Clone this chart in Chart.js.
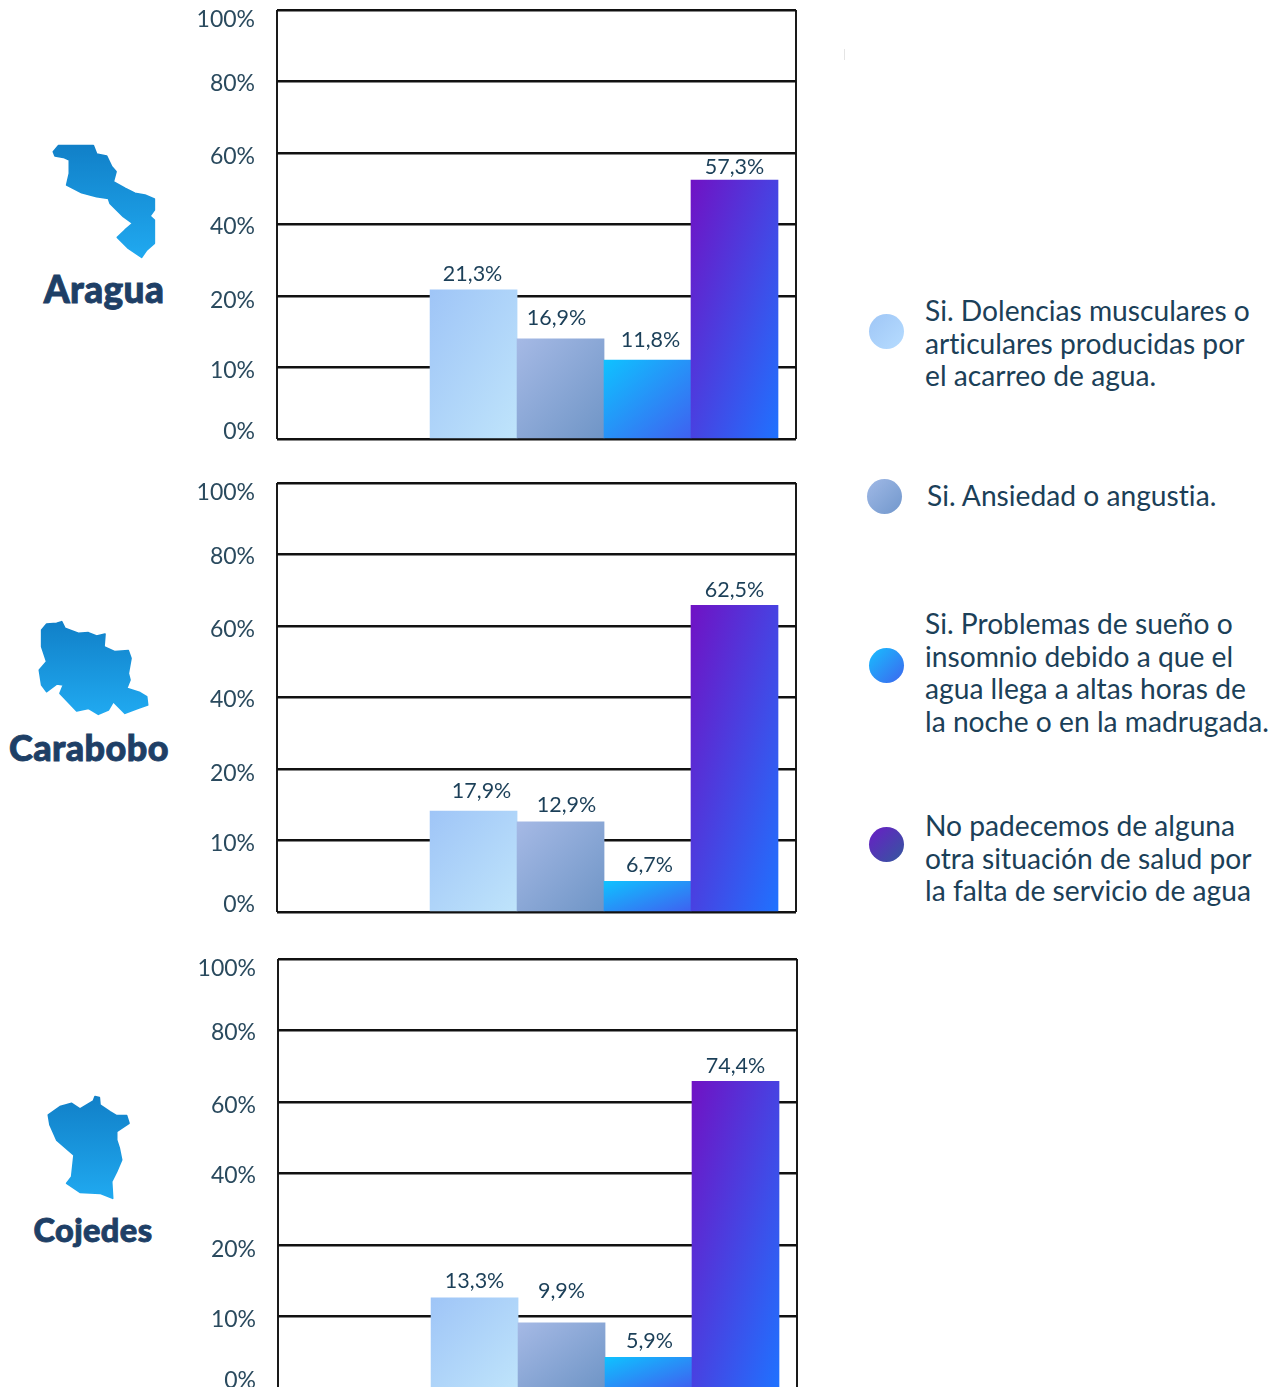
<!DOCTYPE html>
<html lang="es">
<head>
<meta charset="utf-8">
<title>Salud y servicio de agua</title>
<script src="https://cdn.jsdelivr.net/npm/chart.js@4/dist/chart.umd.min.js"></script>
<style>
html,body{margin:0;padding:0;background:#fff;width:1280px;height:1387px;overflow:hidden}
body{position:relative;font-family:Lato,sans-serif}
.c{position:absolute;display:block}
svg.m{position:absolute;left:0;width:280px}
svg.m path{fill:url(#mapGrad);stroke:url(#mapGrad);stroke-width:5;stroke-linejoin:round;filter:blur(.4px)}
.r{position:absolute;transform:translate(-50%,-50%);font-weight:900;color:#1e3f66;white-space:nowrap;line-height:1;-webkit-text-stroke:0.9px #1e3f66;letter-spacing:.4px}
.t{position:absolute;left:925px;font-size:28.2px;line-height:32.5px;color:#1b4058;white-space:nowrap;font-weight:400;font-variant-ligatures:none}
.d{position:absolute;width:35px;height:35px;border-radius:50%}
</style>
</head>
<body>
<svg width="0" height="0" style="position:absolute"><defs>
<linearGradient id="mapGrad" x1="0" y1="0" x2="0" y2="1"><stop offset="0" stop-color="#1180c8"/><stop offset="1" stop-color="#20a9f0"/></linearGradient>
</defs></svg>

<svg class="m" style="top:130px" height="190" viewBox="0 0 840 570"><path d="M160 65L175 47L280 47L290 72L320 78L335 110L348 125L340 155L375 175L405 190L435 195L463 207L463 240L450 258L463 270L463 340L440 360L425 382L385 355L352 322L375 300L398 280L370 260L330 220L325 205L290 200L245 188L200 165L208 130L208 90L190 82L165 78Z"/></svg>
<svg class="m" style="top:610px" height="170" viewBox="0 0 840 510"><path d="M125 60L140 42L170 40L185 35L195 55L235 70L265 68L290 78L315 72L312 110L345 125L385 122L393 145L385 190L390 210L380 235L420 248L440 260L443 285L415 295L375 310L340 275L325 300L295 313L265 295L230 303L180 250L190 225L170 222L140 245L125 225L118 180L140 155L125 110Z"/></svg>
<svg class="m" style="top:1085px" height="170" viewBox="0 0 840 510"><path d="M145 90L180 65L215 55L240 72L280 48L285 35L298 38L300 60L330 80L350 92L380 92L387 115L350 140L350 165L358 190L365 225L350 260L335 290L338 340L300 325L240 322L200 295L215 275L222 210L170 165L150 120Z"/></svg>

<div class="r" style="left:104px;top:288px;font-size:37px">Aragua</div>
<div class="r" style="left:89px;top:747px;font-size:36px">Carabobo</div>
<div class="r" style="left:93px;top:1230px;font-size:32.5px">Cojedes</div>

<canvas class="c" id="c1" style="left:0;top:-10px"></canvas>
<canvas class="c" id="c2" style="left:0;top:463px"></canvas>
<canvas class="c" id="c3" style="left:1px;top:939px"></canvas>

<div class="d" style="left:869px;top:314px;background:linear-gradient(135deg,#9fc6f6,#b6dcff)"></div>
<div class="d" style="left:867px;top:479px;background:linear-gradient(135deg,#a0b9e6,#7197cc)"></div>
<div class="d" style="left:869px;top:648px;background:linear-gradient(135deg,#18beff,#3d66ee)"></div>
<div class="d" style="left:869px;top:827px;background:linear-gradient(135deg,#6a1dc6,#33589e)"></div>
<div style="position:absolute;left:844px;top:49px;width:1px;height:11px;background:#e4e4e4"></div>

<div class="t" style="top:294px">Si. Dolencias musculares o<br>articulares producidas por<br>el acarreo de agua.</div>
<div class="t" style="top:479px;left:927px">Si. Ansiedad o angustia.</div>
<div class="t" style="top:607px">Si. Problemas de sueño o<br>insomnio debido a que el<br>agua llega a altas horas de<br>la noche o en la madrugada.</div>
<div class="t" style="top:809px">No padecemos de alguna<br>otra situación de salud por<br>la falta de servicio de agua</div>

<script>
// Categories (legend order)
const categories = ["Dolencias musculares o articulares", "Ansiedad o angustia", "Problemas de sueño o insomnio", "No padecemos de otra situación de salud"];
// Axis: the reference spaces these ticks evenly, so the axis is not linear
const tickValues = [0, 10, 20, 40, 60, 80, 100];
const tickLabels = ["0%", "10%", "20%", "40%", "60%", "80%", "100%"];
// Printed value labels
const araguaLabels = ["21,3%", "16,9%", "11,8%", "57,3%"];
const caraboboLabels = ["17,9%", "12,9%", "6,7%", "62,5%"];
const cojedesLabels = ["13,3%", "9,9%", "5,9%", "74,4%"];
// Bar tops as read against the reference's axis
const araguaBars = [21.7, 14.0, 11.05, 52.4];
const caraboboBars = [14.1, 12.6, 4.3, 65.8];
const cojedesBars = [12.6, 9.1, 4.3, 65.8];

const tickColor = "#2a4a5e", labelColor = "#1b3f58";
const gradients = [["#9fc5f7", "#bfe4fb"], ["#a5b9e5", "#6f95c6"], ["#0fc2ff", "#3f60f0"], ["#7012c4", "#1f72ff"]];
const labelNudges = [-7, 3, 5, 2, 4, 2, 10];

class StepPercentScale extends Chart.LinearScale {
  static id = "stepPercent";
  static defaults = {};
  getPixelForValue(v) {
    let i = 0;
    while (i < tickValues.length - 2 && v > tickValues[i + 1]) i++;
    const t = (v - tickValues[i]) / (tickValues[i + 1] - tickValues[i]);
    return this.getPixelForDecimal((i + t) / (tickValues.length - 1));
  }
  _computeLabelItems(area) {
    const items = super._computeLabelItems(area);
    items.forEach((it, i) => {
      const tr = it.options.translation;
      it.options.translation = [tr[0], tr[1] + labelNudges[i]];
    });
    return items;
  }
}
Chart.register(StepPercentScale);

const valueLabels = {
  id: "valueLabels",
  afterDatasetsDraw(chart, args, opts) {
    const ctx = chart.ctx, meta = chart.getDatasetMeta(0);
    ctx.save();
    ctx.font = "21.5px Lato";
    ctx.fillStyle = labelColor;
    ctx.textAlign = "center";
    ctx.textBaseline = "middle";
    meta.data.forEach((bar, i) => {
      ctx.fillText(opts.texts[i], bar.x + opts.dx[i], bar.y + opts.dy[i]);
    });
    ctx.restore();
  }
};

function build(id, bars, texts, dx, dy) {
  const canvas = document.getElementById(id);
  canvas.width = 820; canvas.height = 469;
  canvas.style.width = "820px"; canvas.style.height = "469px";
  return new Chart(canvas, {
    type: "bar",
    plugins: [valueLabels],
    data: {
      datasets: [{
        label: id,
        data: bars.map((v, i) => ({ x: i, y: v })),
        barThickness: 87,
        borderWidth: 0,
        backgroundColor(c) {
          const pair = gradients[c.dataIndex || 0];
          if (c.type !== "data" || !c.parsed) return pair[0];
          const sx = c.chart.scales.x, sy = c.chart.scales.y;
          const xc = sx.getPixelForValue(c.parsed.x);
          const top = sy.getPixelForValue(c.parsed.y), bottom = sy.getPixelForValue(0);
          // elements are first resolved before the layout has run
          if (![xc, top, bottom].every(Number.isFinite)) return pair[0];
          // corner-to-corner gradient: the other two corners share the midpoint colour
          const w = 87, h = bottom - top, yc = (top + bottom) / 2;
          const k = (w * h) / (w * w + h * h);
          const g = c.chart.ctx.createLinearGradient(xc - h * k, yc - w * k, xc + h * k, yc + w * k);
          g.addColorStop(0, pair[0]); g.addColorStop(1, pair[1]);
          return g;
        }
      }]
    },
    options: {
      responsive: false, animation: false, events: [],
      layout: { padding: { top: 20, bottom: 20, left: 0, right: 24 } },
      plugins: { legend: { display: false }, tooltip: { enabled: false }, valueLabels: { texts, dx, dy } },
      scales: {
        x: {
          type: "linear", min: -2.26, max: 3.707, offset: false,
          afterBuildTicks(s) { s.ticks = [{ value: s.min }, { value: s.max }]; },
          ticks: { display: false },
          border: { display: false },
          grid: { color: "#1a1a1a", lineWidth: 2, drawTicks: false, offset: false }
        },
        y: {
          type: "stepPercent", min: 0, max: 100,
          afterBuildTicks(s) { s.ticks = tickValues.map(v => ({ value: v })); },
          afterFit(s) { s.width = 277; s.paddingTop = 0; s.paddingBottom = 0; },
          border: { display: false },
          grid: { color: "#111", lineWidth: 2.4, drawTicks: false },
          ticks: {
            autoSkip: false, padding: 22, color: tickColor, maxRotation: 0,
            font: { family: "Lato", size: 23 },
            callback: (v) => tickLabels[tickValues.indexOf(v)]
          }
        }
      }
    }
  });
}

document.fonts.load("900 36px Lato").then(() => document.fonts.load("21px Lato")).finally(() => {
  build("c1", araguaBars, araguaLabels, [-1, -4, 3, 0], [-16, -21, -20, -13]);
  build("c2", caraboboBars, caraboboLabels, [8, 6, 2, 0], [-20, -17, -16, -15]);
  build("c3", cojedesBars, cojedesLabels, [0, 0, 1, 0], [-17, -32, -16, -15]);
});
</script>
</body>
</html>
